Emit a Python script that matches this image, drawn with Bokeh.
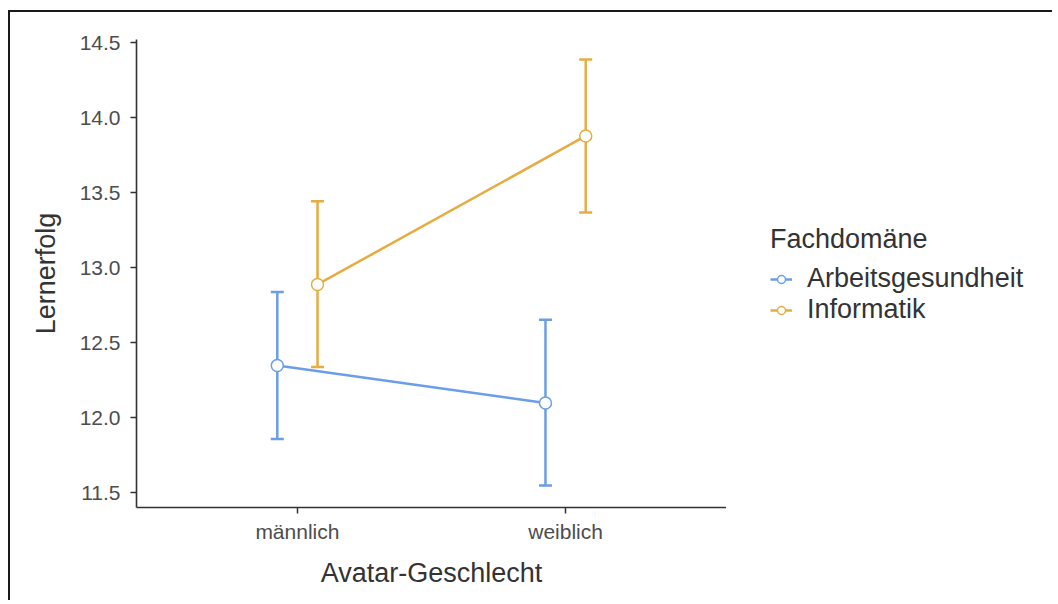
from bokeh.plotting import figure
from bokeh.layouts import row
from bokeh.models import (ColumnDataSource, FactorRange, Range1d, Whisker, TeeHead,
                          Legend, LegendItem, FixedTicker, NumeralTickFormatter)
from bokeh.transform import dodge
from bokeh.embed import file_html
from bokeh.resources import INLINE

# ---- data ----
genders = ["männlich", "weiblich"]
domains = ["Arbeitsgesundheit", "Informatik"]
arb_mean = [12.35, 12.10]
arb_lower = [11.86, 11.55]
arb_upper = [12.84, 12.655]
inf_mean = [12.89, 13.88]
inf_lower = [12.34, 13.37]
inf_upper = [13.445, 14.39]
y_ticks = [11.5, 12.0, 12.5, 13.0, 13.5, 14.0, 14.5]

colors = ["#6B9DE8", "#E6AC40"]
offsets = [-0.075, 0.075]
FONT = "Liberation Sans"

W_MAIN, W_LEG, H = 716, 326, 588
MB_L, MB_T, MB_R, MB_B = 126, 27, 0, 93

p = figure(x_range=FactorRange(factors=genders, range_padding=0.1, range_padding_units="absolute"),
           y_range=Range1d(11.403, 14.523),
           width=W_MAIN, height=H, output_backend="svg", toolbar_location=None,
           min_border_left=MB_L, min_border_top=MB_T, min_border_right=MB_R, min_border_bottom=MB_B)

# ---- legend panel (separate figure to the right of the plot) ----
q = figure(width=W_LEG, height=H, output_backend="svg", toolbar_location=None,
           x_range=FactorRange(factors=genders), y_range=Range1d(0, 1),
           x_axis_location=None, y_axis_location=None,
           min_border_left=0, min_border_right=0, min_border_top=0, min_border_bottom=0)

series = [(arb_mean, arb_lower, arb_upper), (inf_mean, inf_lower, inf_upper)]
items = []
for d, (m, lo, up), c, off in zip(domains, series, colors, offsets):
    src = ColumnDataSource(dict(x=genders, mean=m, lower=lo, upper=up))
    xs = dodge("x", off, range=p.x_range)
    p.line(x=xs, y="mean", source=src, line_color=c, line_width=2.5)
    wk = Whisker(base=xs, upper="upper", lower="lower", source=src,
                 line_color=c, line_width=2.5,
                 upper_head=TeeHead(size=13, line_color=c, line_width=2.5),
                 lower_head=TeeHead(size=13, line_color=c, line_width=2.5))
    p.add_layout(wk)
    p.scatter(x=xs, y="mean", source=src, size=12, fill_color="white",
              line_color=c, line_width=1.5)
    # legend proxies in the legend panel (same data, lying outside its view)
    qx = dodge("x", off, range=q.x_range)
    ln = q.line(x=qx, y="mean", source=src, line_color=c, line_width=2.5)
    sc = q.scatter(x=qx, y="mean", source=src, size=12, fill_color="white",
                   line_color=c, line_width=1.5)
    items.append(LegendItem(label=d, renderers=[ln, sc]))

# axes
for ax in (p.xaxis[0], p.yaxis[0]):
    ax.axis_line_color = "#333333"
    ax.axis_line_width = 1.6
    ax.major_tick_line_color = "#333333"
    ax.major_tick_line_width = 1.5
    ax.major_tick_in = 0
    ax.major_tick_out = 6
    ax.minor_tick_line_color = None
    ax.major_label_text_font_size = "21px"
    ax.major_label_text_font = FONT
    ax.major_label_text_color = "#4d4d4d"
    ax.axis_label_text_font_size = "27px"
    ax.axis_label_text_font = FONT
    ax.axis_label_text_font_style = "normal"
    ax.axis_label_text_color = "#333333"

p.xaxis.axis_label = "Avatar-Geschlecht"
p.yaxis.axis_label = "Lernerfolg"
p.yaxis.ticker = FixedTicker(ticks=y_ticks)
p.yaxis.formatter = NumeralTickFormatter(format="0.0")
p.yaxis.major_label_standoff = 10
p.xaxis.major_label_standoff = 6
p.yaxis.axis_label_standoff = 16
p.xaxis.axis_label_standoff = 12

for f in (p, q):
    f.xgrid.visible = False
    f.ygrid.visible = False
    f.outline_line_color = None
    f.background_fill_color = "white"
    f.border_fill_color = "white"

legend = Legend(items=items, title="Fachdomäne", location=(44, 182), orientation="vertical",
                border_line_color=None, background_fill_alpha=0,
                label_text_font_size="27px", label_text_font=FONT, label_text_color="#333333",
                title_text_font_size="27px", title_text_font=FONT, title_text_color="#333333",
                title_text_font_style="normal", glyph_width=22, glyph_height=20,
                label_standoff=15, spacing=0, padding=0, margin=0, title_standoff=8)
q.add_layout(legend)

layout = row(p, q, spacing=0,
             styles={"margin-left": "8px", "margin-top": "10px",
                     "border-left": "2px solid #1a1a1a", "border-top": "2px solid #1a1a1a"})

open("out.html", "w").write(file_html(layout, INLINE))
